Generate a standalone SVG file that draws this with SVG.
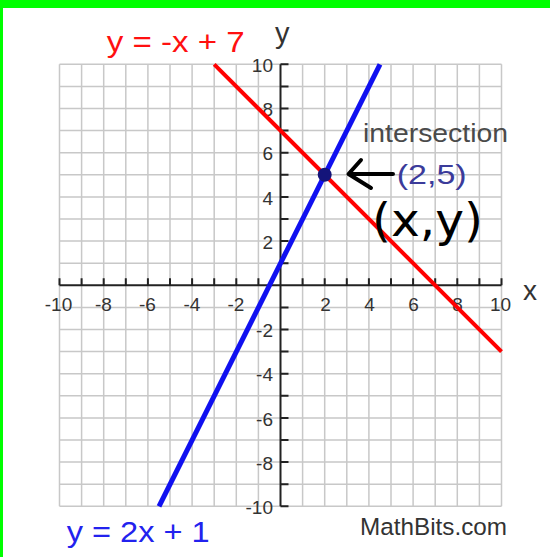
<svg xmlns="http://www.w3.org/2000/svg" width="550" height="557" viewBox="0 0 550 557">
<style>
.grid{fill:none;stroke:#c8c8c8;stroke-width:1.5}
.axis{fill:none;stroke:#222;stroke-width:2}
.num{font-family:"Liberation Sans",Arial,sans-serif;font-size:19px;fill:#333}
.nx{text-anchor:middle}
.ny{text-anchor:end}
.lbl{font-family:"Liberation Sans",Arial,sans-serif}
</style>
<rect x="0" y="0" width="550" height="557" fill="#fff"/>
<rect x="0" y="0" width="550" height="8" fill="#00ff00"/>
<rect x="0" y="0" width="3" height="557" fill="#00ff00"/>
<g id="grid">
<path class="grid" d="M59.5 64.3V506.3M81.6 64.3V506.3M103.7 64.3V506.3M125.8 64.3V506.3M147.9 64.3V506.3M170 64.3V506.3M192.1 64.3V506.3M214.2 64.3V506.3M236.3 64.3V506.3M258.4 64.3V506.3M302.6 64.3V506.3M324.7 64.3V506.3M346.8 64.3V506.3M368.9 64.3V506.3M391 64.3V506.3M413.1 64.3V506.3M435.2 64.3V506.3M457.3 64.3V506.3M479.4 64.3V506.3M501.5 64.3V506.3M59.5 64.3H501.5M59.5 86.4H501.5M59.5 108.5H501.5M59.5 130.6H501.5M59.5 152.7H501.5M59.5 174.8H501.5M59.5 196.9H501.5M59.5 219H501.5M59.5 241.1H501.5M59.5 263.2H501.5M59.5 307.4H501.5M59.5 329.5H501.5M59.5 351.6H501.5M59.5 373.7H501.5M59.5 395.8H501.5M59.5 417.9H501.5M59.5 440H501.5M59.5 462.1H501.5M59.5 484.2H501.5M59.5 506.3H501.5"/>
</g>
<g id="axes">
<path class="axis" d="M59.5 285.3H501.5M280.5 64.3V506.3"/>
<path class="axis" d="M59.5 285.3V278.3M81.6 285.3V278.3M103.7 285.3V278.3M125.8 285.3V278.3M147.9 285.3V278.3M170 285.3V278.3M192.1 285.3V278.3M214.2 285.3V278.3M236.3 285.3V278.3M258.4 285.3V278.3M302.6 285.3V278.3M324.7 285.3V278.3M346.8 285.3V278.3M368.9 285.3V278.3M391 285.3V278.3M413.1 285.3V278.3M435.2 285.3V278.3M457.3 285.3V278.3M479.4 285.3V278.3M501.5 285.3V278.3"/>
<path class="axis" d="M280.5 64.3H288.5M280.5 86.4H288.5M280.5 108.5H288.5M280.5 130.6H288.5M280.5 152.7H288.5M280.5 174.8H288.5M280.5 196.9H288.5M280.5 219H288.5M280.5 241.1H288.5M280.5 263.2H288.5M280.5 307.4H288.5M280.5 329.5H288.5M280.5 351.6H288.5M280.5 373.7H288.5M280.5 395.8H288.5M280.5 417.9H288.5M280.5 440H288.5M280.5 462.1H288.5M280.5 484.2H288.5M280.5 506.3H288.5"/>
<g id="xnums" class="num nx">
<text x="58.5" y="310.5">-10</text><text x="103.5" y="310.5">-8</text><text x="147.5" y="310.5">-6</text><text x="192" y="310.5">-4</text><text x="236" y="310.5">-2</text>
<text x="325.5" y="310.5">2</text><text x="369.5" y="310.5">4</text><text x="413.5" y="310.5">6</text><text x="457.5" y="310.5">8</text><text x="500.5" y="310.5">10</text>
</g>
<g id="ynums" class="num ny">
<text x="273" y="72">10</text><text x="273" y="116.2">8</text><text x="273" y="160.4">6</text><text x="273" y="204.6">4</text><text x="273" y="248.8">2</text>
<text x="273" y="337.2">-2</text><text x="273" y="381.4">-4</text><text x="273" y="425.6">-6</text><text x="273" y="469.8">-8</text><text x="273" y="514">-10</text>
</g>
<text id="xlabel" class="lbl" x="523" y="300" font-size="28" fill="#333">x</text>
<text id="ylabel" class="lbl" x="275" y="43" font-size="29" fill="#333">y</text>
</g>
<g id="connectors">
<path id="red-line" d="M214.2 64.3L501.5 351.6" stroke="#ff0000" stroke-width="4" fill="none"/>
<path id="blue-line" d="M159 506.3L380 64.3" stroke="#1010f0" stroke-width="5" fill="none"/>
<path id="arrow" d="M393 174H349M361 160L348.5 174L371 188" stroke="#000" stroke-width="4" fill="none" stroke-linecap="round" stroke-linejoin="round"/>
</g>
<g id="intersection-point">
<circle cx="324.7" cy="174.8" r="7" fill="#14147a"/>
</g>
<g id="labels">
<text id="red-label" class="lbl" x="106.7" y="51.7" font-size="30" fill="#ff1010" textLength="138" lengthAdjust="spacingAndGlyphs">y = -x + 7</text>
<text id="blue-label" class="lbl" x="66.7" y="541.7" font-size="30" fill="#2222ee" textLength="143" lengthAdjust="spacingAndGlyphs">y = 2x + 1</text>
<text id="intersection-label" class="lbl" x="363" y="141.7" font-size="26" fill="#4a4a4a" textLength="145" lengthAdjust="spacingAndGlyphs">intersection</text>
<text id="point-label" class="lbl" x="396.7" y="184" font-size="28" fill="#3b3b9a" textLength="70" lengthAdjust="spacingAndGlyphs">(2,5)</text>
<text id="xy-label" x="372" y="236" font-family="'DejaVu Sans',sans-serif" font-size="47" fill="#000" textLength="111" lengthAdjust="spacingAndGlyphs">(x,y)</text>
<text id="credit" class="lbl" x="360" y="535" font-size="24.5" fill="#333" textLength="147" lengthAdjust="spacingAndGlyphs">MathBits.com</text>
</g>
</svg>
